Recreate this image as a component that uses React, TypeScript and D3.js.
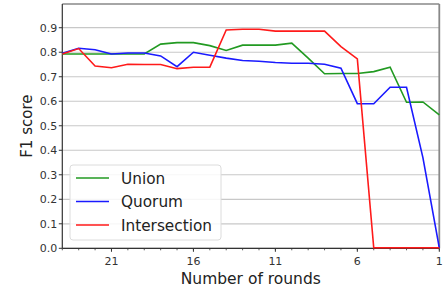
import { scaleLinear, line, range } from 'd3';

const rounds = range(24, 0, -1);
const unionScores = [0.793, 0.793, 0.793, 0.793, 0.793, 0.793, 0.833, 0.839, 0.839, 0.827, 0.807, 0.829, 0.829, 0.829, 0.837, 0.776, 0.712, 0.713, 0.713, 0.721, 0.739, 0.596, 0.597, 0.544];
const quorumScores = [0.796, 0.816, 0.81, 0.793, 0.797, 0.797, 0.785, 0.741, 0.8, 0.788, 0.776, 0.766, 0.763, 0.758, 0.755, 0.755, 0.751, 0.735, 0.59, 0.59, 0.657, 0.657, 0.37, 0.0];
const intersectionScores = [0.793, 0.815, 0.744, 0.737, 0.751, 0.75, 0.75, 0.733, 0.739, 0.739, 0.891, 0.894, 0.894, 0.886, 0.886, 0.886, 0.886, 0.823, 0.773, 0.0, 0.0, 0.0, 0.0, 0.0];
const seriesNames = ['Union', 'Quorum', 'Intersection'];
const seriesColors = ['#229a22', '#1a1aff', '#ff1a1a'];
const xTicks = [21, 16, 11, 6, 1];
const yTicks = [0, 0.1, 0.2, 0.3, 0.4, 0.5, 0.6, 0.7, 0.8, 0.9];

const W = 443;
const H = 292;
const left = 62.3;
const right = 439.3;
const top = 4;
const bottom = 248.3;
const font = '"DejaVu Sans", sans-serif';

const App = () => {
  const x = scaleLinear().domain([24, 1]).range([left, right]);
  const y = scaleLinear().domain([0, 0.9968]).range([bottom, top]);
  const all = [unionScores, quorumScores, intersectionScores];
  const path = line<number>()
    .x((d, i) => x(rounds[i]))
    .y((d) => y(d) - (d === 0 ? 0.5 : 0));

  return (
    <svg width={W} height={H} style={{ position: 'absolute', left: 0, top: 0, background: '#fff' }}>
      {yTicks.map((t) => (
        <g key={t}>
          <line x1={left} x2={right} y1={y(t)} y2={y(t)} stroke="#c8c8c8" strokeWidth={1.2} />
          <line x1={left - 3.5} x2={left} y1={y(t)} y2={y(t)} stroke="#333" strokeWidth={1} />
          <text x={left - 5} y={y(t) + 4} textAnchor="end" fontSize={11} fontFamily={font} fill="#333">
            {t.toFixed(1)}
          </text>
        </g>
      ))}
      {rounds.map((r) => (
        <line key={r} x1={x(r)} x2={x(r)} y1={bottom} y2={bottom + 2} stroke="#333" strokeWidth={0.8} />
      ))}
      {xTicks.map((t) => (
        <g key={t}>
          <line x1={x(t)} x2={x(t)} y1={bottom} y2={bottom + 3.5} stroke="#333" strokeWidth={1} />
          <text x={x(t)} y={bottom + 17} textAnchor="middle" fontSize={11} fontFamily={font} fill="#333">
            {t}
          </text>
        </g>
      ))}
      <line x1={left} x2={right} y1={top} y2={top} stroke="#888" strokeWidth={1.5} />
      <line x1={right} x2={right} y1={top} y2={bottom} stroke="#888" strokeWidth={1.8} />
      <line x1={left} x2={left} y1={top} y2={bottom} stroke="#333" strokeWidth={1.2} />
      <line x1={left} x2={right} y1={bottom} y2={bottom} stroke="#333" strokeWidth={1.2} />
      <defs>
        <clipPath id="clip">
          <rect x={left} y={top - 1} width={right - left + 1} height={bottom - top + 2} />
        </clipPath>
      </defs>
      <g clipPath="url(#clip)">
        {all.map((s, i) => (
          <path key={i} d={path(s) || ''} fill="none" stroke={seriesColors[i]} strokeWidth={1.6} />
        ))}
      </g>

      <rect x={70} y={165} width={151} height={75} rx={3} fill="#fff" fillOpacity={0.85} stroke="#dcdcdc" strokeWidth={1} />
      {seriesNames.map((n, i) => (
        <g key={n}>
          <line x1={76} x2={109} y1={178 + i * 23.5} y2={178 + i * 23.5} stroke={seriesColors[i]} strokeWidth={1.6} />
          <text x={121} y={183.5 + i * 23.5} fontSize={15.3} fontFamily={font} fill="#222">
            {n}
          </text>
        </g>
      ))}

      <text x={(left + right) / 2} y={284} textAnchor="middle" fontSize={15.5} fontFamily={font} fill="#222">
        Number of rounds
      </text>
      <text transform={`translate(32,${(top + bottom) / 2}) rotate(-90)`} textAnchor="middle" fontSize={15} fontFamily={font} fill="#222">
        F1 score
      </text>
    </svg>
  );
};

export default App;
